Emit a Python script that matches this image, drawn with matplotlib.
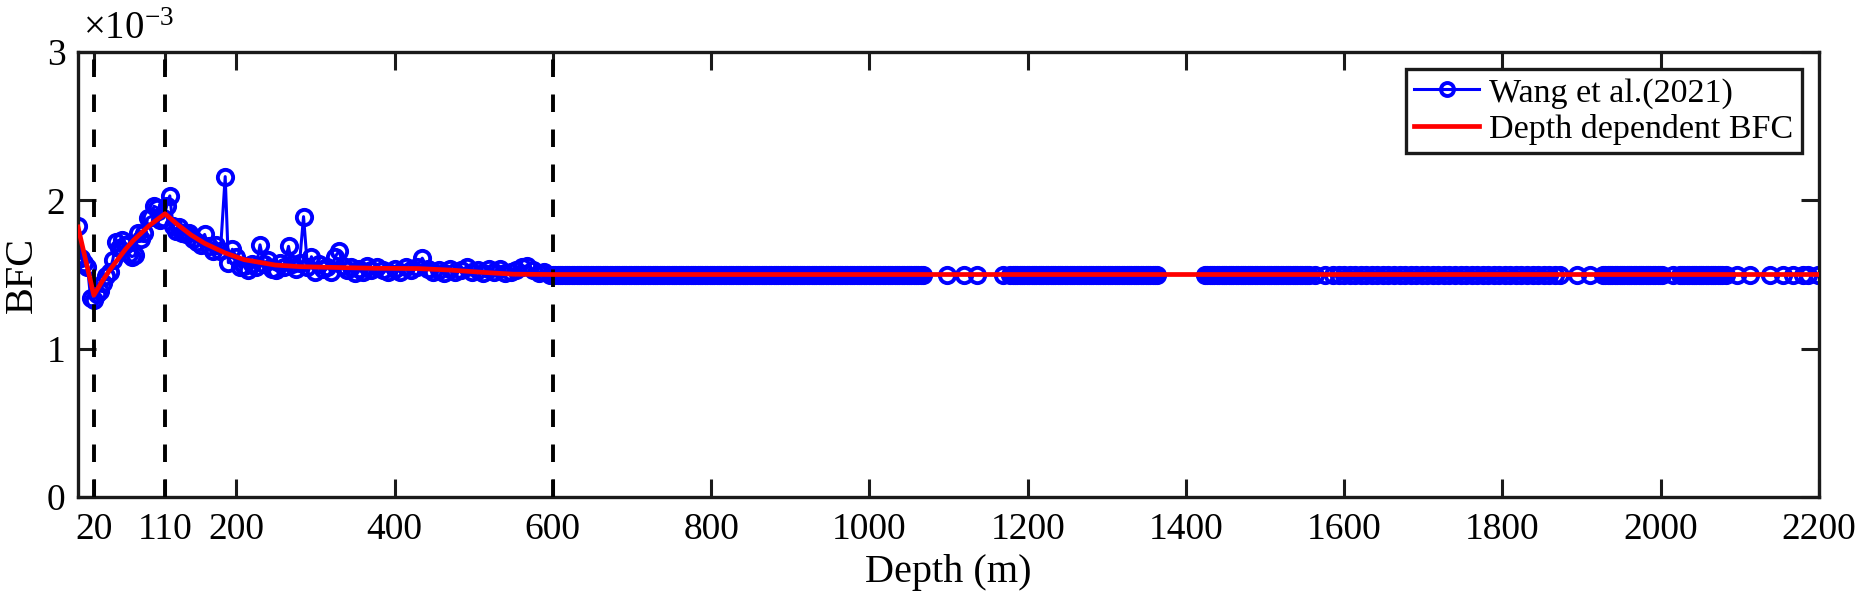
import numpy as np
import matplotlib.pyplot as plt

plt.rcParams['font.family'] = ['Liberation Serif', 'DejaVu Serif']
plt.rcParams['mathtext.fontset'] = 'custom'
plt.rcParams['mathtext.rm'] = 'Liberation Serif'
plt.rcParams['mathtext.it'] = 'Liberation Serif:italic'

# Wang et al.(2021), shallow part (depth in m, BFC in 1e-3)
shallow_depth = [0, 4, 8, 12, 16, 20, 24, 28, 32, 36, 40, 44, 48, 52, 56, 60, 64, 68, 72, 76,
                 80, 84, 88, 92, 96, 100, 104, 108, 112, 116, 120,
                 124, 128, 132, 136, 140, 145, 150, 155, 160, 165, 170, 175, 180, 186, 190, 195,
                 200, 205, 210, 215, 220, 225, 230, 235, 240, 245, 250, 255, 260, 266, 270, 275,
                 280, 285, 290, 295, 300, 305, 310, 315, 320, 325, 330, 335, 340, 345, 350, 355,
                 360, 365, 370, 378, 385, 392, 400, 407, 414, 421, 428, 435, 442, 449, 456, 463,
                 470, 477, 484, 491, 498, 505, 512, 519, 526, 533, 540, 547, 554, 561, 568, 575,
                 582, 589, 596]
shallow_bfc = [1.83, 1.61, 1.58, 1.55, 1.34, 1.33, 1.37, 1.39, 1.44, 1.49, 1.52, 1.60, 1.72, 1.68, 1.73, 1.70,
               1.64, 1.62, 1.63, 1.78, 1.74, 1.78, 1.88, 1.89, 1.96, 1.95, 1.87, 1.88, 1.96, 2.03, 1.83,
               1.79, 1.82, 1.78, 1.77, 1.78, 1.74, 1.72, 1.70, 1.77, 1.69, 1.66, 1.70, 1.66, 2.16, 1.58, 1.67,
               1.62, 1.55, 1.56, 1.53, 1.57, 1.55, 1.70, 1.57, 1.60, 1.54, 1.53, 1.58, 1.55, 1.69, 1.57, 1.54,
               1.58, 1.89, 1.55, 1.62, 1.52, 1.57, 1.54, 1.55, 1.52, 1.62, 1.66, 1.56, 1.53, 1.55, 1.51, 1.54,
               1.52, 1.56, 1.53, 1.55, 1.53, 1.52, 1.54, 1.52, 1.55, 1.53, 1.55, 1.61, 1.54, 1.52, 1.53, 1.51,
               1.54, 1.52, 1.53, 1.55, 1.52, 1.53, 1.51, 1.54, 1.52, 1.54, 1.51, 1.52, 1.53, 1.55, 1.56, 1.53,
               1.51, 1.52, 1.50]

# deeper part: sampled spans (start, end, spacing in m) and isolated samples, all at 1.5e-3
deep_spans = [(600, 1068, 3), (1178, 1365, 3), (1424, 1556, 3), (1586, 1875, 7),
              (1927, 2003, 3), (2024, 2079, 3)]
deep_single = [1098, 1119, 1136, 1169, 1563, 1576, 1894, 1911, 2016, 2083, 2096, 2113,
               2138, 2155, 2167, 2180, 2186, 2199]
deep_bfc = 1.50

# depth dependent BFC (1e-3)
model_depth = [0, 20, 30, 40, 50, 60, 70, 80, 90, 100, 110, 125, 143, 160, 186, 210, 249,
               280, 312, 375, 430, 470, 510, 550, 600, 2200]
model_bfc = [1.82, 1.36, 1.45, 1.53, 1.60, 1.67, 1.73, 1.78, 1.83, 1.87, 1.91, 1.84, 1.766,
             1.71, 1.645, 1.60, 1.564, 1.553, 1.549, 1.542, 1.54, 1.53, 1.515, 1.502, 1.50, 1.50]

boundaries = [20, 110, 600]
xticks = [20, 110, 200, 400, 600, 800, 1000, 1200, 1400, 1600, 1800, 2000, 2200]

deep_depth = list(deep_single)
for a, b, s in deep_spans:
    deep_depth += list(np.arange(a, b + 1, s))
deep_depth = np.sort(np.array(deep_depth, dtype=float))

wang_depth = np.concatenate([shallow_depth, deep_depth])
wang_bfc = np.concatenate([shallow_bfc, np.full(len(deep_depth), deep_bfc)]) * 1e-3

fig = plt.figure(figsize=(18.59, 6.07), dpi=100)
ax = fig.add_axes([0.04196, 0.18122, 0.93652, 0.73311])

ax.plot(wang_depth, wang_bfc, '-o', color='b', lw=2.2, ms=11, mew=2.8,
        mfc='none', label='Wang et al.(2021)', zorder=2)
for b in boundaries:
    ax.axvline(b, color='k', lw=2.8, ls=(0, (4.5, 4.5)), zorder=3)
ax.plot(np.array(model_depth), np.array(model_bfc) * 1e-3, color='r', lw=3.4,
        label='Depth dependent BFC', zorder=4)

ax.set_xlim(0, 2200)
ax.set_ylim(0, 3e-3)
ax.set_xticks(xticks)
ax.set_yticks([0, 1e-3, 2e-3, 3e-3])
ax.set_yticklabels(['0', '1', '2', '3'])
ax.text(0.003, 1.01, r'$\times$10$^{-3}$', transform=ax.transAxes, fontsize=28,
        ha='left', va='bottom')

ax.tick_params(direction='in', top=True, right=True, length=13, width=2.2,
               labelsize=27, color='#1a1a1a', labelcolor='k')
ax.tick_params(axis='x', pad=11)
ax.tick_params(axis='y', pad=9)
for sp in ax.spines.values():
    sp.set_linewidth(2.4)
    sp.set_color('#1a1a1a')

ax.set_xlabel('Depth (m)', fontsize=29, labelpad=5)
ax.set_ylabel('BFC', fontsize=29, labelpad=4)

leg = ax.legend(loc='upper right', fontsize=24.5, fancybox=False, framealpha=1,
                edgecolor='#1a1a1a', borderaxespad=0.5, handlelength=1.9,
                handletextpad=0.3, borderpad=0.25, labelspacing=0.15, markerscale=0.85)
leg.get_frame().set_linewidth(2.4)

fig.savefig('out.png', dpi=100)
